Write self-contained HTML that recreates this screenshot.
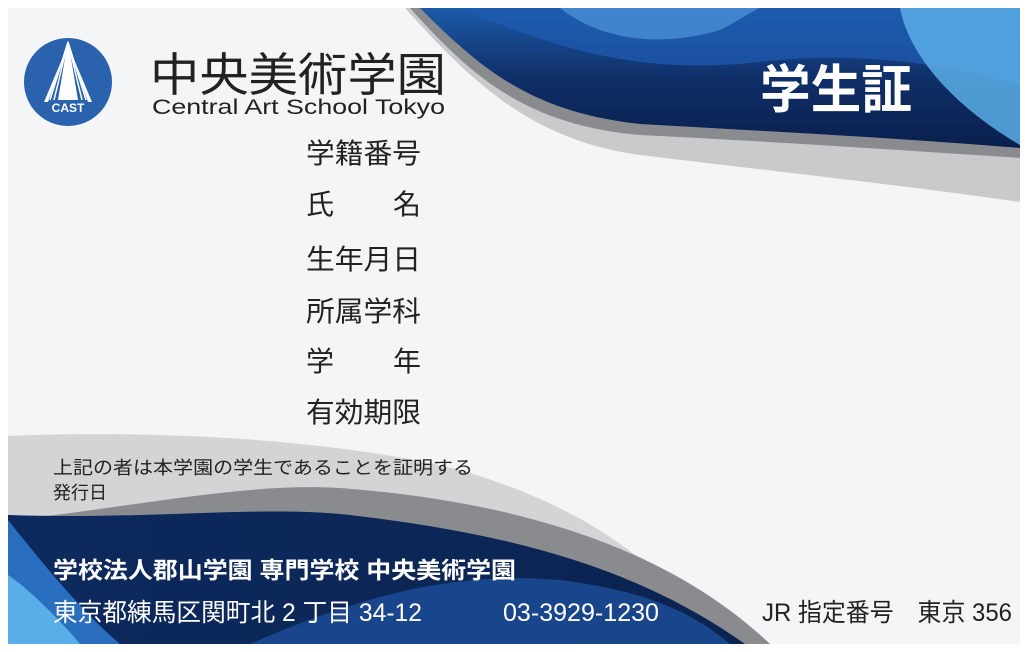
<!DOCTYPE html>
<html><head><meta charset="utf-8"><style>
html,body{margin:0;padding:0;background:#fff;}
svg{display:block;}
text{font-family:"Liberation Sans","Noto Sans CJK JP",sans-serif;}
</style></head><body>
<svg width="1029" height="652" viewBox="0 0 1029 652">
<defs>
<clipPath id="card"><rect x="8" y="8" width="1012" height="636"/></clipPath>
<linearGradient id="tb" x1="0" y1="0" x2="0" y2="1"><stop offset="0" stop-color="#1d5aa8"/><stop offset="0.5" stop-color="#0f2f68"/><stop offset="1" stop-color="#0a1f4d"/></linearGradient>
<linearGradient id="bb" x1="0" y1="0" x2="1" y2="0"><stop offset="0" stop-color="#0d2a5e"/><stop offset="1" stop-color="#0b2350"/></linearGradient>
</defs>
<rect x="8" y="8" width="1012" height="636" fill="#f4f5f7"/>
<g clip-path="url(#card)">
<path d="M405 8 C470 80 530 140 640 155 C780 172 900 185 1020 202 L1020 8Z" fill="#c9cacc"/>
<path d="M410 8 C470 75 525 125 640 135 C780 142 900 150 1020 158 L1020 8Z" fill="#8a8b8e"/>
<path d="M420 8 C480 68 530 112 640 124 C780 132 900 138 1020 148 L1020 8Z" fill="url(#tb)"/>
<path d="M460 8 C560 50 640 75 760 62 C860 50 950 65 1020 85 L1020 8Z" fill="#1f5bb0" opacity="0.75"/>
<path d="M560 8 C600 40 660 48 720 30 C740 20 750 12 760 8Z" fill="#4a90d4" opacity="0.8"/>
<path d="M900 8 C910 60 960 110 1020 145 L1020 8Z" fill="#5aaee8" opacity="0.85"/>
</g>
<g clip-path="url(#card)">
<path d="M8 436 C150 430 330 438 460 470 C580 505 660 560 720 644 L8 644Z" fill="#d3d4d6"/>
<path d="M8 520 C120 510 240 482 340 488 C500 500 660 540 770 644 L8 644Z" fill="#8a8b8e"/>
<path d="M8 515 C150 520 260 505 350 515 C520 535 640 570 745 644 L8 644Z" fill="url(#bb)"/>
<path d="M250 644 C350 600 450 570 560 580 C640 590 690 610 730 644Z" fill="#1d4e9a" opacity="0.8"/>
<path d="M8 520 C40 560 80 610 120 644 L8 644Z" fill="#2a6ec0"/>
<path d="M8 575 C30 590 60 620 80 644 L8 644Z" fill="#5aaee8"/>
</g>
<g>
<circle cx="68" cy="82" r="44" fill="#2a62ad"/>
<path d="M68 40 L78 100 L58 100Z M68 45 L92 102 L88 102 Z M68 45 L44 102 L48 102Z" fill="#fff"/>
<path d="M68 42 L82 100 M68 42 L54 100 M68 42 L86 100 M68 42 L50 100" stroke="#fff" stroke-width="1.5"/>
<text x="68" y="112" font-size="12" font-weight="bold" fill="#fff" text-anchor="middle">CAST</text>
</g>
<text x="150" y="91" font-size="46" fill="#222" textLength="296" lengthAdjust="spacingAndGlyphs">中央美術学園</text>
<text x="152" y="114" font-size="21" fill="#222" textLength="293" lengthAdjust="spacingAndGlyphs">Central Art School Tokyo</text>
<text x="760" y="108" font-size="52" font-weight="bold" fill="#fff" textLength="152" lengthAdjust="spacingAndGlyphs">学生証</text>
<g font-size="28" fill="#222">
<text x="306" y="163" textLength="115" lengthAdjust="spacingAndGlyphs">学籍番号</text>
<text x="306" y="214">氏</text><text x="393" y="214">名</text>
<text x="306" y="269" textLength="115" lengthAdjust="spacingAndGlyphs">生年月日</text>
<text x="306" y="321" textLength="115" lengthAdjust="spacingAndGlyphs">所属学科</text>
<text x="306" y="371">学</text><text x="393" y="371">年</text>
<text x="306" y="422" textLength="115" lengthAdjust="spacingAndGlyphs">有効期限</text>
</g>
<text x="53" y="474" font-size="18" fill="#222" textLength="420" lengthAdjust="spacingAndGlyphs">上記の者は本学園の学生であることを証明する</text>
<text x="53" y="499" font-size="18" fill="#222">発行日</text>
<text x="53" y="578" font-size="23" font-weight="bold" fill="#fff" textLength="463" lengthAdjust="spacingAndGlyphs">学校法人郡山学園  専門学校 中央美術学園</text>
<text x="53" y="621" font-size="25" fill="#fff" textLength="369" lengthAdjust="spacingAndGlyphs">東京都練馬区関町北 2 丁目 34-12</text>
<text x="503" y="621" font-size="25" fill="#fff" textLength="156" lengthAdjust="spacingAndGlyphs">03-3929-1230</text>
<text x="762" y="621" font-size="25" fill="#222" textLength="250" lengthAdjust="spacingAndGlyphs">JR 指定番号　東京 356</text>
</svg>
</body></html>
